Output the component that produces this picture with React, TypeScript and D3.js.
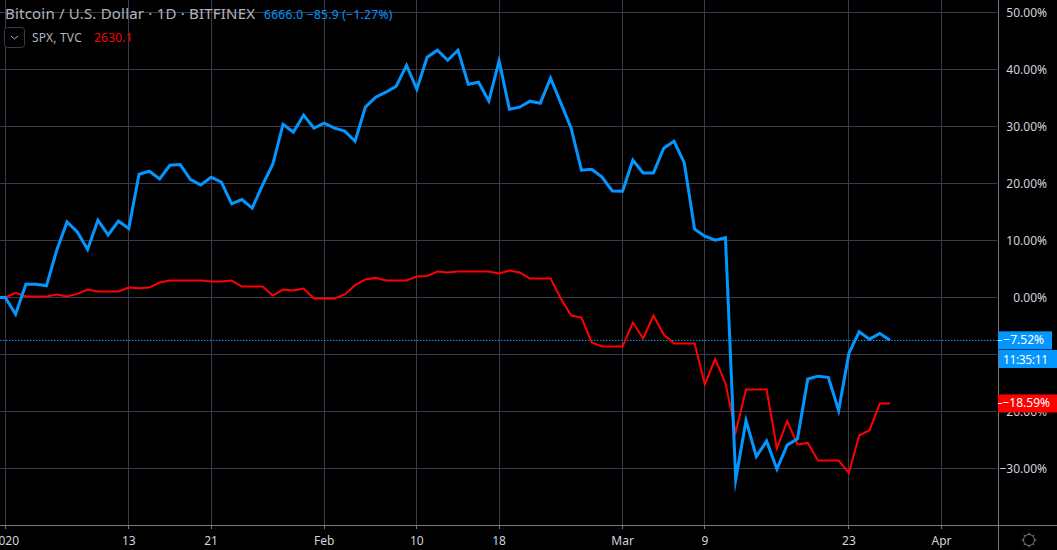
import React from 'react';
import * as d3 from 'd3';

const btcValues = [
  0, 0, -2.93, 2.33, 2.33, 2.05, 8.3, 13.26, 11.5, 8.42, 13.56, 10.98, 13.39, 12.1, 21.63, 22.16, 20.8, 23.2, 23.33,
  20.7, 19.75, 21.1, 20.23, 16.42, 17.19, 15.67, 19.7, 23.39, 30.4, 29.0, 32.0, 29.7, 30.58, 29.7, 29.18, 27.42,
  33.39, 35.14, 36.02, 37.07, 40.75, 36.54, 42.16, 43.39, 41.63, 43.39, 37.42, 37.77, 34.49, 41.51, 33.04, 33.39,
  34.44, 34.09, 38.47, 34.09, 29.7, 22.33, 22.51, 21.11, 18.7, 18.65, 24.09, 21.86, 21.86, 26.19, 27.42, 23.61,
  11.98, 10.75, 10.05, 10.49, -31.9, -21.6, -27.9, -25.2, -30.1, -25.9, -24.8, -14.3, -13.8, -14.0, -19.8, -9.8,
  -6.0, -7.3, -6.3, -7.52,
];

const spxValues = [
  0, 0.81, 0.18, 0.18, 0.18, 0.53, 0.18, 0.63, 1.4, 1.05, 1.05, 1.05, 1.75, 1.63, 1.75, 2.63, 2.98, 2.98, 2.98, 2.98,
  2.81, 2.81, 2.98, 1.93, 1.93, 1.93, 0.35, 1.4, 1.23, 1.58, -0.18, -0.18, -0.18, 0.53, 2.16, 3.16, 3.44, 2.98, 2.98,
  2.98, 3.68, 3.79, 4.56, 4.39, 4.56, 4.56, 4.56, 4.56, 4.21, 4.74, 4.39, 3.33, 3.33, 3.33, -0.18, -3.16, -3.51,
  -7.89, -8.6, -8.6, -8.6, -4.39, -7.19, -3.16, -6.49, -8.07, -8.07, -8.07, -15.21, -10.82, -15.04, -23.58, -16.14,
  -16.14, -16.14, -26.49, -21.7, -25.79, -25.51, -28.6, -28.6, -28.6, -30.77, -24.21, -23.28, -18.59, -18.59,
];

const yTicks = [50, 40, 30, 20, 10, 0, -10, -20, -30];
// the -10% label sits fully under the countdown tag in the original
const yLabels = [50, 40, 30, 20, 10, 0, -20, -30];
const xTickDates = ['2020-01-01', '2020-01-13', '2020-01-21', '2020-02-01', '2020-02-10', '2020-02-18', '2020-03-01', '2020-03-09', '2020-03-23', '2020-04-01'];
const xTickLabels = ['2020', '13', '21', 'Feb', '10', '18', 'Mar', '9', '23', 'Apr'];

const W = 1057;
const H = 550;
const plotRight = 998;
const plotBottom = 525;
const BLUE = '#0496ff';
const RED = '#ff0000';
const GRID = '#363c4e';
const AXIS = '#787b86';
const TEXT = '#b2b5be';
const AXIS_TEXT = '#d1d4dc';
const FONT = '"Noto Sans", sans-serif';

const day = (s: string) => new Date(s + 'T00:00:00Z');

const App = () => {
  const x = d3.scaleUtc().domain([day('2020-01-01'), day('2020-04-01')]).range([5.3, 941.5]);
  const y = d3.scaleLinear().domain([0, 50]).range([297.5, 12.5]);

  const btcPts = btcValues.map((v, i) => [d3.utcDay.offset(day('2019-12-31'), i), v] as [Date, number]);
  const spxPts = spxValues.map((v, i) => [d3.utcDay.offset(day('2020-01-01'), i), v] as [Date, number]);
  const line = d3.line<[Date, number]>().x((d) => x(d[0])).y((d) => y(d[1]));

  const lastY = y(btcValues[btcValues.length - 1]);
  const lastSpxY = y(spxValues[spxValues.length - 1]);
  const snapX = (d: Date) => Math.floor(x(d)) + 0.5;

  const gearTeeth = d3.range(8).map((i) => (i * Math.PI) / 4);

  return (
    <svg width={W} height={H} style={{ position: 'absolute', left: 0, top: 0, background: '#000', fontFamily: FONT }}>
      <defs>
        <clipPath id="plot">
          <rect x={0} y={0} width={plotRight} height={plotBottom} />
        </clipPath>
      </defs>

      {/* grid */}
      {xTickDates.map((d) => (
        <line key={d} x1={snapX(day(d))} x2={snapX(day(d))} y1={0} y2={plotBottom} stroke={GRID} />
      ))}
      {yTicks.map((t) => (
        <line key={t} x1={0} x2={plotRight - 1} y1={y(t)} y2={y(t)} stroke={GRID} />
      ))}

      {/* last price line */}
      <line x1={0} x2={plotRight} y1={Math.round(lastY) + 0.5} y2={Math.round(lastY) + 0.5} stroke={BLUE} strokeDasharray="1.5 1.5" />

      {/* series */}
      <g clipPath="url(#plot)" fill="none" strokeLinejoin="miter" strokeMiterlimit={12}>
        <path d={line(spxPts) || ''} stroke={RED} strokeWidth={2} />
        <path d={line(btcPts) || ''} stroke={BLUE} strokeWidth={3} />
      </g>

      {/* axes */}
      <line x1={plotRight + 0.5} x2={plotRight + 0.5} y1={0} y2={H} stroke={AXIS} />
      <line x1={0} x2={W} y1={plotBottom + 0.5} y2={plotBottom + 0.5} stroke={AXIS} />
      {xTickDates.map((d, i) => (
        <g key={d}>
          <line x1={snapX(day(d))} x2={snapX(day(d))} y1={plotBottom} y2={plotBottom + 4} stroke={AXIS} />
          <text x={x(day(d))} y={545} textAnchor="middle" fontSize={12} fill={AXIS_TEXT}>
            {xTickLabels[i]}
          </text>
        </g>
      ))}
      {yLabels.map((t) => (
        <text key={t} x={1047} y={y(t) + 4} textAnchor="end" fontSize={12} fill={AXIS_TEXT}>
          {`${t < 0 ? '\u2212' : ''}${Math.abs(t).toFixed(2)}%`}
        </text>
      ))}

      {/* price tags */}
      <rect x={998} y={lastY - 9} width={54} height={18} fill={BLUE} />
      <line x1={998} x2={1002} y1={Math.round(lastY) + 0.5} y2={Math.round(lastY) + 0.5} stroke="#fff" />
      <text x={1044} y={lastY + 4} textAnchor="end" fontSize={12} fill="#fff">{'\u22127.52%'}</text>
      <rect x={999} y={350} width={58} height={18} fill={BLUE} />
      <text x={1003} y={363.5} fontSize={12} fill="#fff" textLength={45}>11:35:11</text>
      <rect x={998} y={lastSpxY - 9} width={59} height={18} fill={RED} />
      <line x1={998} x2={1002} y1={Math.round(lastSpxY) + 0.5} y2={Math.round(lastSpxY) + 0.5} stroke="#fff" />
      <text x={1050} y={lastSpxY + 4} textAnchor="end" fontSize={12} fill="#fff">{'\u221218.59%'}</text>

      {/* legend */}
      <text x={5} y={19} fontSize={15} letterSpacing={0.2} fill={TEXT}>Bitcoin / U.S. Dollar · 1D · BITFINEX</text>
      <text x={264} y={19} fontSize={12} letterSpacing={0.3} fill={BLUE}>{'6666.0 \u221285.9 (\u22121.27%)'}</text>
      <rect x={4.5} y={27.5} width={20} height={20} rx={3} fill="#000" stroke={GRID} />
      <path d="M11 36 L14.5 39 L18 36" fill="none" stroke={TEXT} />
      <text x={32} y={42} fontSize={12} letterSpacing={0.2} fill={TEXT}>SPX, TVC</text>
      <text x={94} y={42} fontSize={12} letterSpacing={0.2} fill={RED}>2630.1</text>

      {/* settings gear */}
      <g transform="translate(1029,540)" fill="none" stroke={AXIS}>
        <circle r={5.5} />
        {gearTeeth.map((a) => (
          <line key={a} x1={5.5 * Math.cos(a)} y1={5.5 * Math.sin(a)} x2={7.5 * Math.cos(a)} y2={7.5 * Math.sin(a)} />
        ))}
      </g>
    </svg>
  );
};

export default App;
